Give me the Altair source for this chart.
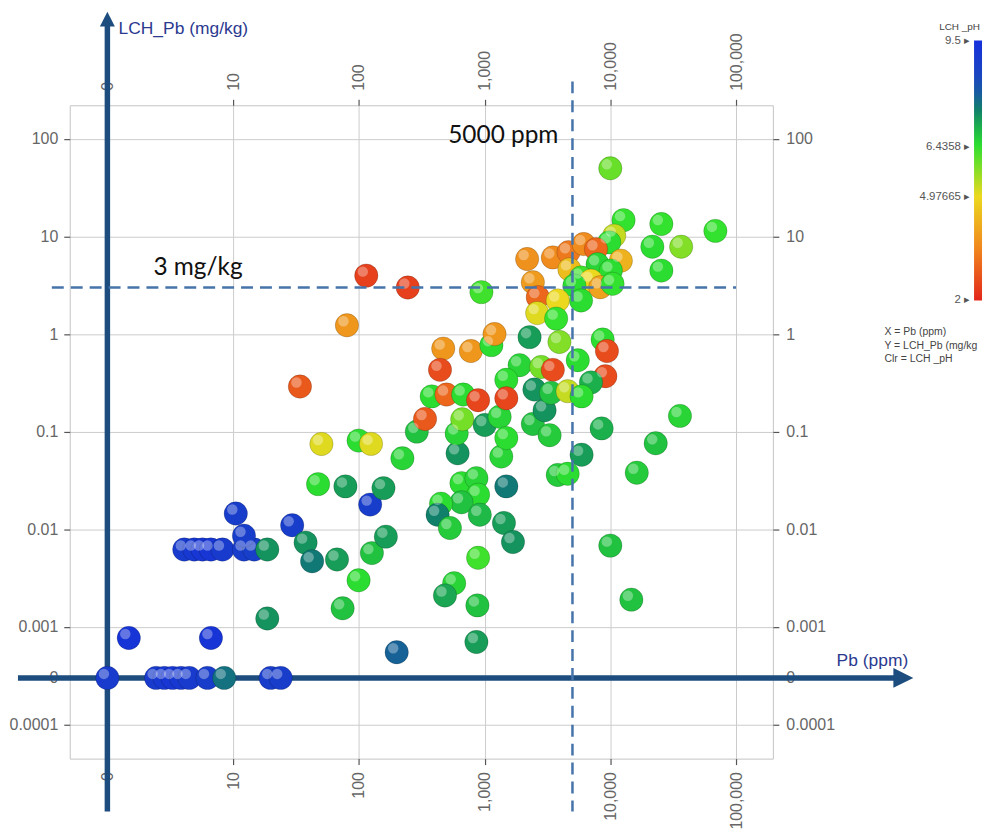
import altair as alt
import pandas as pd

# ---------------- data ----------------
PB = [0, 2.44, 2.84, 3.3, 3.85, 4.48, 6.25, 8.5, 19.9, 23.9,
      1.48, 6.66,
      4.09, 4.91, 5.71, 6.66, 8.22, 12.2, 14.7, 18.7,
      10.5, 12.2, 29.5, 37.7, 42.5, 67, 18.7, 74.3, 99.5, 127, 123, 164, 200,
      47.4, 78.2, 157, 50.4, 99.5, 125, 222, 289, 336, 610, 600, 664,
      655, 861, 888, 655, 450, 423, 530, 916, 1426, 1682, 1489, 888, 573, 484, 877, 861,
      1358, 1003, 1318, 1489, 2420, 3000, 3290, 8530, 5910, 3820, 4580,
      22960, 16230, 35800, 10000, 14700,
      469, 778, 1133, 1200, 442, 2280, 3940, 8690, 9400, 5510, 1900, 2820, 3490, 9130,
      7020, 1489, 1489, 2490, 3380, 4580, 5910, 380, 498, 676, 888,
      10000, 12740, 25470, 68500, 21600, 36600, 25470, 10740, 9810,
      2180, 3490, 4650, 6140, 7690, 12130, 7920, 10100, 4730, 5850, 7020, 8320,
      10420, 5180, 5850, 2420, 2650, 3820, 2620, 3710, 944, 245, 114.6, 80.4, 34]

LCH_PB = [0, 0, 0, 0, 0, 0, 0, 0, 0, 0,
          0.00077, 0.00077,
          0.0062, 0.0062, 0.0062, 0.0062, 0.0062, 0.0062, 0.0062, 0.0062,
          0.0145, 0.0086, 0.011, 0.0073, 0.0047, 0.0049, 0.00122, 0.00155, 0.003, 0.0057, 0.0179, 0.0084, 0.00055,
          0.029, 0.0275, 0.0264, 0.0748, 0.081, 0.075, 0.0534, 0.1, 0.135, 0.06, 0.096, 0.134,
          0.0297, 0.0334, 0.0226, 0.0189, 0.0183, 0.0141, 0.0103, 0.0141, 0.0116, 0.0074, 0.0275, 0.0051, 0.0028, 0.0021, 0.00166, 0.0007,
          0.0556, 0.117, 0.142, 0.086, 0.12, 0.166, 0.092, 0.108, 0.058, 0.036, 0.037,
          0.076, 0.038, 0.145, 0.0068, 0.0019,
          0.71, 0.67, 0.77, 1.0, 0.43, 0.93, 0.83, 0.88, 0.67, 0.54, 0.48, 0.46, 0.43, 0.37,
          0.32, 0.34, 0.22, 0.27, 0.25, 0.26, 0.23, 0.23, 0.24, 0.24, 0.21,
          49.9, 14.7, 13.4, 11.4, 7.85, 7.85, 4.47, 10.2, 8.7,
          5.87, 6.1, 6.9, 8.36, 7.4, 5.65, 5.2, 4.47, 4.6, 3.8, 3.53, 3.02,
          3.27, 3.14, 2.21, 3.4, 2.39, 2.21, 1.64, 1.44, 2.69, 3.0, 3.97, 1.23, 0.29]

PH = [9.0, 9.0, 9.1, 9.2, 9.1, 9.0, 8.9, 7.7, 8.9, 8.9,
      9.3, 9.3,
      9.0, 9.1, 9.2, 9.2, 9.0, 8.9, 8.8, 7.3,
      8.9, 8.9, 8.9, 7.3, 7.6, 7.2, 7.3, 6.8, 6.5, 6.8, 8.9, 7.2, 7.9,
      6.5, 7.2, 7.2, 5.1, 6.5, 5.1, 6.6, 6.8, 2.8, 7.3, 6.6, 5.9,
      6.5, 6.6, 6.5, 6.8, 6.5, 7.5, 6.7, 6.9, 7.2, 7.3, 7.6, 6.3, 6.6, 7.1, 6.8, 7.2,
      6.6, 7.2, 6.6, 6.5, 6.8, 7.3, 6.7, 7.0, 7.2, 6.7, 6.5,
      6.8, 6.7, 6.6, 6.8, 6.8,
      3.8, 3.8, 6.5, 3.8, 2.6, 7.2, 5.8, 6.5, 2.6, 6.5, 6.6, 5.9, 2.6, 2.6,
      7.0, 6.5, 2.5, 7.3, 6.8, 5.3, 6.5, 6.5, 3.0, 6.5, 2.5,
      6.0, 6.4, 6.4, 6.4, 6.5, 5.8, 6.5, 5.3, 6.5,
      3.7, 3.6, 3.3, 3.6, 3.0, 4.3, 6.6, 6.5, 4.5, 6.3, 5.0, 4.0,
      6.4, 6.5, 6.5, 3.9, 3.0, 5.0, 5.1, 6.4, 6.3, 2.4, 2.4, 3.8, 2.8]

X_TICKS = [1, 10, 100, 1000, 10000, 100000]
Y_TICKS = [100, 10, 1, 0.1, 0.01, 0.001, 0.0003, 0.0001]
ZERO_X = 1          # where a Pb of 0 is drawn
ZERO_Y = 0.0003     # where a LCH_Pb of 0 is drawn
X_DOMAIN = [0.502, 196300]
Y_DOMAIN = [4.47e-5, 220.8]
PB_LIMIT = 5000
LCH_LIMIT = 3
LEGEND_VALUES = [2, 4.97665, 6.4358, 9.5]
LEGEND_LABELS = ["2", "4.97665", "6.4358", "9.5"]
PH_DOMAIN = [2, 9.5]
PH_STOPS = [2, 3.5, 5.0, 6.44, 7.0, 7.5, 8.2, 9.5]
PH_COLORS = ["#e3261b", "#f0861d", "#ecd91f", "#2ee22e", "#1cb04c", "#10806a", "#1a4cb8", "#1630dc"]

AXIS_BLUE = "#1d4d7e"
DASH_BLUE = "#4674aa"
TITLE_BLUE = "#2b3a8f"

# legend gradient placement (plot-area pixels)
LEG_X, LEG_TOP, LEG_LEN, LEG_W = 908, -65, 261, 8

df = pd.DataFrame({"Pb": PB, "LCH_Pb": LCH_PB, "pH": PH})
leg_df = pd.DataFrame({"v": LEGEND_VALUES, "t": LEGEND_LABELS})
one = pd.DataFrame({"k": [0]})

xs = alt.Scale(type="log", domain=X_DOMAIN, nice=False)
ys = alt.Scale(type="log", domain=Y_DOMAIN, nice=False)

x_expr = "datum.value == 1 ? '0' : format(datum.value, ',')"
y_expr = "abs(datum.value - 0.0003) < 0.00001 ? '0' : format(datum.value, '~g')"

common = dict(labelFont="Liberation Sans", labelFontSize=16, labelColor="#666666",
              tickColor="#555555", tickSize=6, tickWidth=1.2, domain=False,
              labelOverlap=False, labelFlush=False, labelBound=False)
x_bottom = alt.Axis(orient="bottom", values=X_TICKS, labelExpr=x_expr, labelAngle=270,
                    labelPadding=7, grid=True, gridColor="#cccccc", **common)
x_top = alt.Axis(orient="top", values=X_TICKS, labelExpr=x_expr, labelAngle=270,
                 labelPadding=9, grid=False, **common)
y_left = alt.Axis(orient="left", values=Y_TICKS, labelExpr=y_expr, labelPadding=6,
                  grid=True, gridColor="#cccccc", **common)
y_right = alt.Axis(orient="right", values=Y_TICKS, labelExpr=y_expr, labelPadding=7,
                   grid=False, **common)

base = alt.Chart(df).transform_calculate(
    xp=f"datum.Pb > 0 ? datum.Pb : {ZERO_X}",
    yp=f"datum.LCH_Pb > 0 ? datum.LCH_Pb : {ZERO_Y}",
)

color = alt.Color(
    "pH:Q",
    scale=alt.Scale(domain=PH_STOPS, range=PH_COLORS, interpolate="rgb"),
    legend=alt.Legend(
        title=None,
        orient="none", legendX=LEG_X, legendY=LEG_TOP, direction="vertical", padding=0,
        gradientLength=LEG_LEN, gradientThickness=LEG_W, gradientStrokeWidth=0,
        values=LEGEND_VALUES, labelOpacity=0, labelFontSize=1,
    ),
)

points = base.mark_circle(size=552, opacity=1, stroke="#000000", strokeOpacity=0.18,
                          strokeWidth=1).encode(
    x=alt.X("xp:Q", scale=xs, axis=x_bottom, title=None),
    y=alt.Y("yp:Q", scale=ys, axis=y_left, title=None),
    color=color,
)

shine = base.mark_circle(size=110, color="white", opacity=0.33, xOffset=-3.5,
                         yOffset=-4).encode(
    x=alt.X("xp:Q", scale=xs, axis=None),
    y=alt.Y("yp:Q", scale=ys, axis=None),
)

ghost = base.mark_circle(opacity=0).encode(
    x=alt.X("xp:Q", scale=xs, axis=x_top, title=None),
    y=alt.Y("yp:Q", scale=ys, axis=y_right, title=None),
)

# colour-bar tick labels, placed by their own linear scale along the gradient
leg_labels = alt.Chart(leg_df).mark_text(
    align="right", baseline="middle", font="Liberation Sans", fontSize=11.5, color="#555555"
).transform_calculate(
    lab="datum.t + ' ▸'"
).encode(
    x=alt.value(LEG_X - 4),
    y=alt.Y("v:Q", axis=None,
            scale=alt.Scale(domain=PH_DOMAIN, range=[LEG_TOP + LEG_LEN, LEG_TOP], nice=False, zero=False)),
    text="lab:N",
)

vline = alt.Chart(one).mark_rule(color=AXIS_BLUE, strokeWidth=5.5).encode(
    x=alt.XDatum(ZERO_X, type="quantitative", scale=xs, axis=None),
    y=alt.value(-80), y2=alt.value(709),
)
up_arrow = alt.Chart(one).mark_point(shape="M0,-1L1,1L-1,1Z", filled=True, size=225,
                                     color=AXIS_BLUE, opacity=1).encode(
    x=alt.XDatum(ZERO_X, type="quantitative", scale=xs, axis=None),
    y=alt.value(-86.5),
)
hline = alt.Chart(one).mark_rule(color=AXIS_BLUE, strokeWidth=5.5).encode(
    y=alt.YDatum(ZERO_Y, type="quantitative", scale=ys, axis=None),
    x=alt.value(-52), x2=alt.value(828),
)
right_arrow = alt.Chart(one).mark_point(shape="M1,0L-1,-1L-1,1Z", filled=True, size=400,
                                        color=AXIS_BLUE, opacity=1).encode(
    y=alt.YDatum(ZERO_Y, type="quantitative", scale=ys, axis=None),
    x=alt.value(837),
)

vdash = alt.Chart(one).mark_rule(color=DASH_BLUE, strokeWidth=2.5, strokeDash=[12, 7]).encode(
    x=alt.XDatum(PB_LIMIT, type="quantitative", scale=xs, axis=None),
    y=alt.value(-24), y2=alt.value(709),
)
hdash = alt.Chart(one).mark_rule(color=DASH_BLUE, strokeWidth=2.5, strokeDash=[12, 7]).encode(
    y=alt.YDatum(LCH_LIMIT, type="quantitative", scale=ys, axis=None),
    x=alt.value(-18), x2=alt.value(669),
)


def label(text, x, y, size, color, font="Liberation Sans", baseline="middle", align="left"):
    return alt.Chart(one).mark_text(text=text, align=align, baseline=baseline,
                                    font=font, fontSize=size, color=color).encode(
        x=alt.value(x), y=alt.value(y))


texts = [
    label("LCH_Pb (mg/kg)", 49, -77, 17.5, TITLE_BLUE),
    label("Pb (ppm)", 770, 558, 17.5, TITLE_BLUE),
    label("5000 ppm", 380, 38, 24.5, "#111111", font="Lato", baseline="alphabetic"),
    label("3 mg/kg", 84, 170, 24.5, "#111111", font="Lato", baseline="alphabetic"),
    label("LCH _pH", 914, -79, 10, "#444444", align="right"),
    label("X = Pb (ppm)", 818, 228, 10.5, "#444444"),
    label("Y = LCH_Pb (mg/kg", 818, 242, 10.5, "#444444"),
    label("Clr = LCH _pH", 818, 255, 10.5, "#444444"),
]

chart = alt.layer(
    vline, up_arrow, hline, right_arrow, points, shine, ghost, vdash, hdash, leg_labels, *texts
).resolve_axis(
    x="independent", y="independent"
).resolve_scale(
    y="independent"
).properties(
    width=706, height=656,
    padding={"left": 62, "top": 96, "right": 215, "bottom": 70},
    autosize=alt.AutoSizeParams(type="none"),
    background="white",
).configure_view(
    stroke="#c4c4c4", strokeWidth=1
)

chart.save("out.html", embed_options={"renderer": "svg", "actions": False})
